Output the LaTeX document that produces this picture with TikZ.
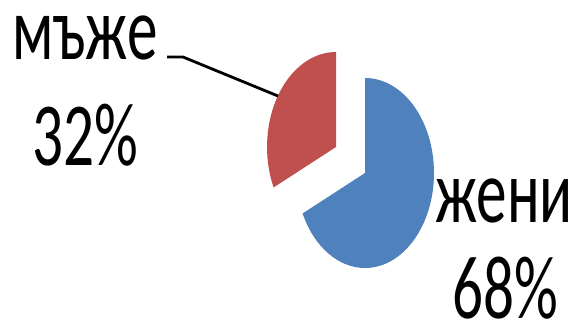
\documentclass[tikz,border=0pt]{standalone}
\usepackage{fontspec}
\setmainfont{Carlito}
\definecolor{sliceblue}{HTML}{4F81BD}
\definecolor{slicered}{HTML}{C0504D}

\begin{document}
\begin{tikzpicture}[x=1pt, y=-1pt,
	lbl/.style={anchor=base, inner sep=0pt, xscale=0.68, font=\fontsize{90}{90}\selectfont},
	leader/.style={draw=black, line width=2.8pt}]
	\useasboundingbox (0,0) rectangle (578,324);
	% slices
	\begin{scope}[shift={(365,173)}, x=0.726pt, y=1pt]
		\fill[sliceblue] (0,0) -- (90:95) arc[start angle=90, end angle=-154.8, radius=95] -- cycle;
	\end{scope}
	\begin{scope}[shift={(336,147)}, x=0.726pt, y=1pt]
		\fill[slicered] (0,0) -- (90:95) arc[start angle=90, end angle=205.2, radius=95] -- cycle;
	\end{scope}
	% labels
	\node[lbl] (men)    at (85,59)   {мъже};
	\node[lbl] (menpc)  at (85,165)  {32\%};
	\node[lbl] (women)  at (504,222) {жени};
	\node[lbl] (wompc)  at (505,318) {68\%};
	% leader line
	\coordinate (lstart) at (167,57);
	\coordinate (lknee)  at (183,57);
	\coordinate (lslice) at (278,96);
	\draw[leader] (lstart) -- (lknee) -- (lslice);
\end{tikzpicture}
\end{document}
